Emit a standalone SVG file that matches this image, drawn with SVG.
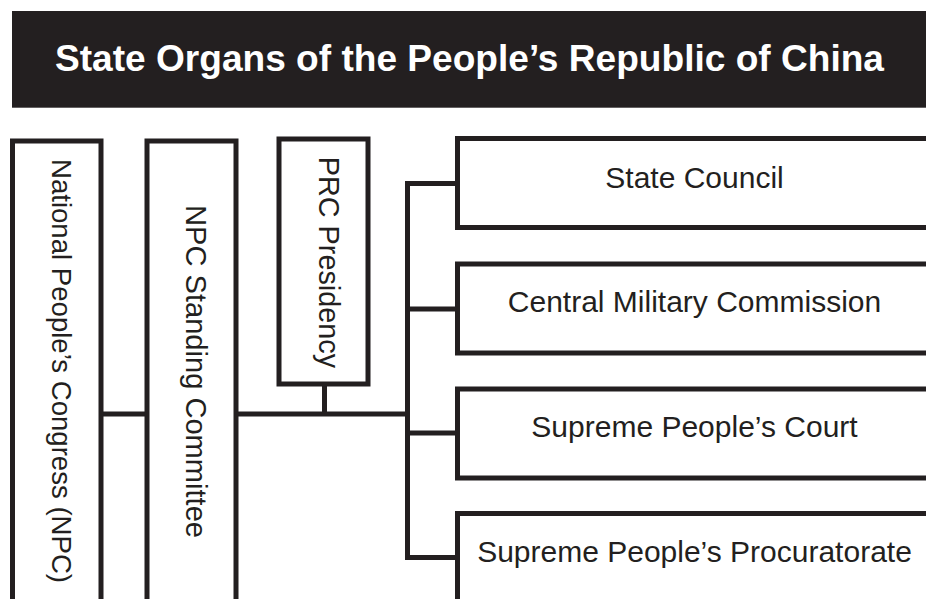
<svg xmlns="http://www.w3.org/2000/svg" width="926" height="599" viewBox="0 0 926 599">
<style>
.box{fill:#fff;stroke:#231f20;stroke-width:5}
.lbl{font-family:"Liberation Sans",Arial,sans-serif;font-size:30px;fill:#231f20}
.con{fill:none;stroke:#231f20;stroke-width:5;stroke-linejoin:miter;stroke-linecap:butt}
.title{font-family:"Liberation Sans",Arial,sans-serif;font-size:36.5px;font-weight:bold;fill:#fff}
</style>
<rect width="926" height="599" fill="#fff"/>
<g id="header">
<rect x="12" y="11" width="930" height="96.7" fill="#231f20"/>
<text class="title" x="55" y="70.7" textLength="829" lengthAdjust="spacingAndGlyphs">State Organs of the People’s Republic of China</text>
</g>
<g id="connectors">
<path class="con" d="M101 414H147"/>
<path class="con" d="M236 414H407.5"/>
<path class="con" d="M324.5 384V414"/>
<path class="con" d="M457.5 183.5H407.5V557.5H457.5"/>
<path class="con" d="M407.5 309H457.5"/>
<path class="con" d="M407.5 433H457.5"/>
</g>
<g id="npc">
<rect class="box" x="12.5" y="141" width="88.5" height="500"/>
<text class="lbl" transform="translate(51.5,159) rotate(90)" style="font-size:28.5px" textLength="424" lengthAdjust="spacingAndGlyphs">National People’s Congress (NPC)</text>
</g>
<g id="npcsc">
<rect class="box" x="147" y="141" width="89" height="500"/>
<text class="lbl" transform="translate(185.5,205) rotate(90)" style="font-size:29px" textLength="333" lengthAdjust="spacingAndGlyphs">NPC Standing Committee</text>
</g>
<g id="presidency">
<rect class="box" x="279" y="139" width="89" height="245"/>
<text class="lbl" transform="translate(318.5,156.7) rotate(90)" style="font-size:29px" textLength="211.5" lengthAdjust="spacingAndGlyphs">PRC Presidency</text>
</g>
<g id="statecouncil">
<rect class="box" x="457.5" y="138.5" width="500" height="89"/>
<text class="lbl" x="694.5" y="188.3" text-anchor="middle">State Council</text>
</g>
<g id="cmc">
<rect class="box" x="457.5" y="264" width="500" height="89"/>
<text class="lbl" x="694.5" y="312" text-anchor="middle">Central Military Commission</text>
</g>
<g id="spc">
<rect class="box" x="457.5" y="389" width="500" height="89"/>
<text class="lbl" x="694.5" y="436.5" text-anchor="middle">Supreme People’s Court</text>
</g>
<g id="spp">
<rect class="box" x="457.5" y="513.5" width="500" height="200"/>
<text class="lbl" x="694.5" y="561.7" text-anchor="middle">Supreme People’s Procuratorate</text>
</g>
</svg>
